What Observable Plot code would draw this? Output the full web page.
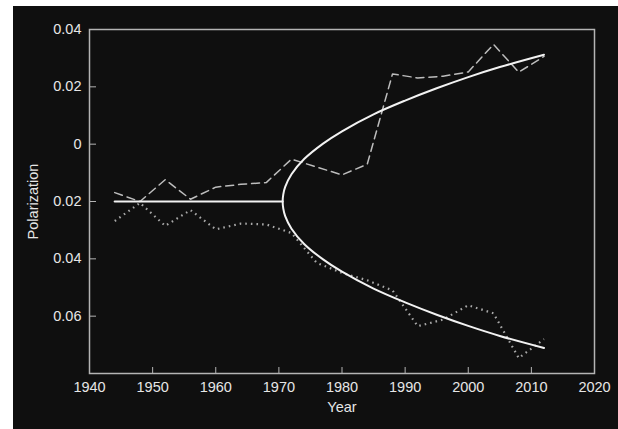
<!DOCTYPE html>
<html>
<head>
<meta charset="utf-8">
<script src="https://cdn.jsdelivr.net/npm/d3@7"></script>
<script src="https://cdn.jsdelivr.net/npm/@observablehq/plot@0.6"></script>
<style>
  html, body { margin: 0; padding: 0; background: #ffffff; }
  #panel { position: absolute; left: 13px; top: 6px; width: 605px; height: 423px; background: #0f0f0f; }
  #panel svg text { font-size: 14.5px; font-family: 'Liberation Sans', Arial, Helvetica, sans-serif; }
</style>
</head>
<body>
<div id="panel"></div>
<script>
// Observed series (every 4 years)
const years = [1944, 1948, 1952, 1956, 1960, 1964, 1968, 1972, 1976, 1980, 1984, 1988, 1992, 1996, 2000, 2004, 2008, 2012];
const dashedValues = [-0.0169, -0.0200, -0.0124, -0.0192, -0.0150, -0.0140, -0.0134, -0.0052, -0.0080, -0.0107, -0.0070, 0.0245, 0.0231, 0.0237, 0.0252, 0.0348, 0.0251, 0.0306];
const dottedValues = [-0.0268, -0.0205, -0.0285, -0.0230, -0.0297, -0.0277, -0.0280, -0.0310, -0.0414, -0.0449, -0.0475, -0.0510, -0.0635, -0.0612, -0.0562, -0.0590, -0.0746, -0.0680];

// Fitted curve (solid): flat part, then two branches
const flatYears = [1944, 1970.6];
const flatValues = [-0.02, -0.02];
const fitYears = [1970.6, 1970.7, 1971, 1972, 1974, 1977, 1980, 1985, 1990, 1995, 2000, 2005, 2012];
const fitUpper = [-0.02, -0.0175, -0.0149, -0.0105, -0.0052, 0.0002, 0.0045, 0.0104, 0.0152, 0.0195, 0.0234, 0.0269, 0.0312];
const fitLower = [-0.02, -0.0225, -0.0251, -0.0295, -0.0348, -0.0402, -0.0445, -0.0504, -0.0552, -0.0595, -0.0634, -0.0669, -0.0711];

const xTicks = [1940, 1950, 1960, 1970, 1980, 1990, 2000, 2010, 2020];
const yTicks = [0.04, 0.02, 0, -0.02, -0.04, -0.06];

const dashed = years.map((y, i) => ({year: y, value: dashedValues[i]}));
const dotted = years.map((y, i) => ({year: y, value: dottedValues[i]}));
const flat = flatYears.map((y, i) => ({year: y, value: flatValues[i]}));
// one path: upper branch from the end back to vertex, then lower branch outward
const fit = [
  ...fitYears.map((y, i) => ({year: y, value: fitUpper[i]})).reverse(),
  ...fitYears.slice(1).map((y, i) => ({year: y, value: fitLower[i + 1]}))
];

const axisColor = "#b4b4b4";
const textColor = "#e6e6e6";

const chart = Plot.plot({
  width: 605,
  height: 423,
  marginLeft: 76,
  marginRight: 24,
  marginTop: 23,
  marginBottom: 56,
  style: {background: "transparent", color: textColor, fontFamily: "'Liberation Sans', Arial, Helvetica, sans-serif", fontSize: "14px"},
  x: {domain: [1940, 2020]},
  y: {domain: [-0.08, 0.04]},
  marks: [
    Plot.frame({stroke: axisColor, strokeWidth: 1.5}),
    Plot.axisX(xTicks, {tickSize: -6, tickPadding: 14, stroke: axisColor, fill: textColor, tickFormat: d => String(d), label: null}),
    Plot.axisY(yTicks, {tickSize: -7, tickPadding: 15, stroke: axisColor, fill: textColor, tickFormat: d => d === 0 ? "0" : Math.abs(d).toFixed(2), label: null}),
    Plot.text(["Year"], {frameAnchor: "bottom", dy: 38, fill: textColor}),
    Plot.text(["Polarization"], {frameAnchor: "left", textAnchor: "middle", dx: -56, rotate: -90, fill: textColor}),
    Plot.line(dotted, {x: "year", y: "value", stroke: "#a8a8a8", strokeWidth: 2.2, strokeDasharray: "1.6,4", strokeLinecap: "butt"}),
    Plot.line(dashed, {x: "year", y: "value", stroke: "#bdbdbd", strokeWidth: 1.5, strokeDasharray: "8,5"}),
    Plot.line(flat, {x: "year", y: "value", stroke: "#f2f2f2", strokeWidth: 2.2}),
    Plot.line(fit, {x: "year", y: "value", stroke: "#f2f2f2", strokeWidth: 2, curve: "catmull-rom"})
  ]
});
document.getElementById("panel").appendChild(chart);
</script>
</body>
</html>
